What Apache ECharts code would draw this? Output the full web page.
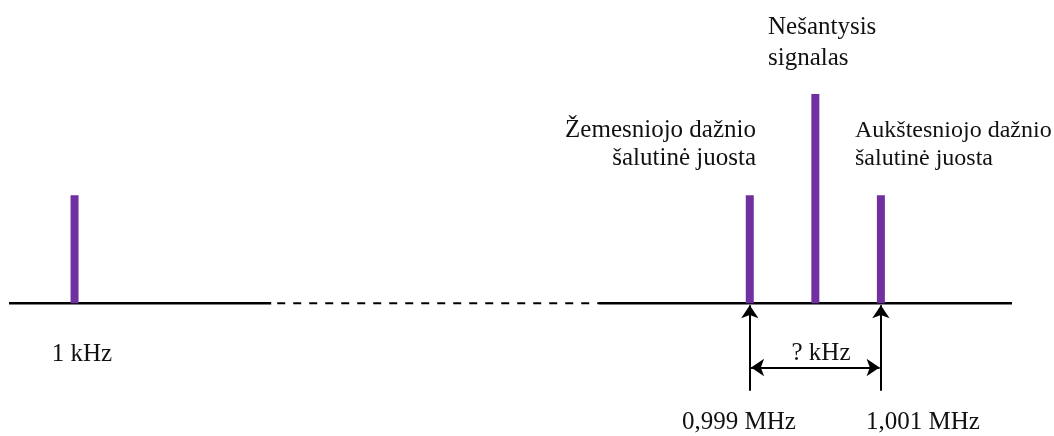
<!DOCTYPE html>
<html>
<head>
<meta charset="utf-8">
<title>AM spektras</title>
<script src="https://cdn.jsdelivr.net/npm/echarts@6/dist/echarts.min.js"></script>
<style>
  html, body { margin: 0; padding: 0; background: #fff; }
  #spektras { width: 1054px; height: 436px; }
</style>
</head>
<body>
<div id="spektras"></div>
<script type="text/javascript">
// spektro linijos: padetis (nesancio atzvilgiu, salutiniu juostu zingsniais) ir amplitude
var lineNames = ["1 kHz", "apatine", "nesantysis", "virsutine"];
var linePos = [-11.3, -1, 0, 1];
var lineAmp = [1, 1, 1.94, 1];

// dažnių ašis (su pertrauka)
var axisSolidLeft = [-12.3, -8.3];
var axisDashed = [-8.3, -3.3];
var axisSolidRight = [-3.3, 3];

// rodyklės
var arrowBottom = -0.81;
var arrowTip = -0.018;
var spanY = -0.595;
var spanEnds = [-0.98, 0.98];

// tekstai
var carrierLabel = "Nešantysis\nsignalas";
var lowerLabel = "Žemesniojo dažnio\nšalutinė juosta";
var upperLabel = "Aukštesniojo dažnio\nšalutinė juosta";
var lowLabel = "1 kHz";
var spanLabel = "? kHz";
var freqLabels = ["0,999 MHz", "1,001 MHz"];

var FONT = "Liberation Serif";

var chart = echarts.init(document.getElementById("spektras"));

function seg(r) {
  return [[r[0], 0], [r[1], 0]];
}

function txt(x, y, text, align, size, lh) {
  return {
    type: "text", x: x, y: y,
    style: {
      text: text, font: (size || 25) + "px " + FONT, fill: "#111",
      align: align, verticalAlign: "middle", lineHeight: lh || 28
    }
  };
}

var option = {
  animation: false,
  grid: { left: 9, right: 42, top: 0, bottom: 0 },
  xAxis: { type: "value", min: -12.3, max: 3, show: false, splitLine: { show: false } },
  yAxis: { type: "value", min: -1.23, max: 2.81, show: false, splitLine: { show: false } },
  series: [
    {
      type: "line", data: seg(axisSolidLeft), symbol: "none", z: 2,
      lineStyle: { color: "#000", width: 2.5 }
    },
    {
      type: "line", data: seg(axisDashed), symbol: "none", z: 2,
      lineStyle: { color: "#000", width: 2, type: [8, 8], dashOffset: 10 }
    },
    {
      type: "line", data: seg(axisSolidRight), symbol: "none", z: 2,
      lineStyle: { color: "#000", width: 2.5 }
    },
    {
      type: "bar",
      name: "spektras",
      barWidth: 8,
      z: 3,
      itemStyle: { color: "#7030A0" },
      data: linePos.map(function (x, i) {
        return { name: lineNames[i], value: [x, lineAmp[i]] };
      }),
      markLine: {
        silent: true,
        animation: false,
        label: { show: false },
        lineStyle: { color: "#000", width: 2, type: "solid" },
        symbol: ["none", "arrow"],
        symbolSize: 13,
        data: [
          [{ coord: [-1, arrowBottom] }, { coord: [-1, arrowTip] }],
          [{ coord: [1, arrowBottom] }, { coord: [1, arrowTip] }],
          [
            { coord: [spanEnds[0], spanY], symbol: "arrow" },
            { coord: [spanEnds[1], spanY], symbol: "arrow" }
          ]
        ]
      }
    }
  ],
  graphic: [
    txt(768, 42.5, carrierLabel, "left", 25, 31),
    txt(756, 144.5, lowerLabel, "right", 25, 28),
    txt(855, 144.5, upperLabel, "left", 24, 28),
    txt(82, 354, lowLabel, "center"),
    txt(821, 353, spanLabel, "center"),
    txt(739, 422.5, freqLabels[0], "center"),
    txt(923, 422.5, freqLabels[1], "center")
  ]
};

chart.setOption(option);
</script>
</body>
</html>
